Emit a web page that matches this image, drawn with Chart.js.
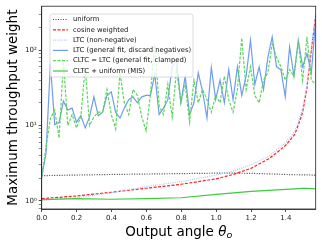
<!DOCTYPE html>
<html>
<head>
<meta charset="utf-8">
<script src="https://cdn.jsdelivr.net/npm/chart.js@4.4.0/dist/chart.umd.min.js"></script>
<style>
  html, body { margin: 0; padding: 0; background: #fff; }
</style>
</head>
<body>
<canvas id="weightChart" width="322" height="246"></canvas>
<script>
// noisy fits are sampled on 64 even steps of theta_o in [0, pi/2]
const fitCount = 64;
const fitAngles = Array.from({ length: fitCount }, (_, i) => i * (Math.PI / 2) / (fitCount - 1));

// smooth curves, read at these angles
const smoothAngles = [0, 0.2, 0.4, 0.6, 0.8, 1.0, 1.1, 1.2, 1.3, 1.35, 1.4, 1.45, 1.47, 1.496, 1.521, 1.546, 1.571];

const uniform        = [2.16, 2.2, 2.24, 2.27, 2.3, 2.33, 2.33, 2.32, 2.28, 2.26, 2.24, 2.22, 2.22, 2.21, 2.21, 2.2, 2.2];
const cosineWeighted = [1.07, 1.16, 1.3, 1.47, 1.66, 1.96, 2.25, 2.7, 3.6, 4.4, 5.5, 7.6, 10, 15, 32, 100, 290];
const ltcNonNeg      = [1.02, 1.1, 1.28, 1.55, 1.8, 2.2, 2.5, 3.0, 3.9, 4.8, 6.0, 8.3, 11, 17, 35, 110, 300];
const cltcMis        = [1.04, 1.07, 1.05, 1.07, 1.1, 1.22, 1.28, 1.34, 1.38, 1.4, 1.42, 1.44, 1.45, 1.46, 1.46, 1.45, 1.45];

const ltcGeneral = [2.1, 4.3, 66, 10.2, 11, 21, 16, 17, 11, 13.5, 9.3, 13, 24, 13.5, 15, 25,
  28, 15, 12.5, 17, 22, 24, 20, 24, 25, 25, 48, 14, 17, 22, 60, 75,
  20, 45, 14, 20, 50, 28, 12.6, 59, 22, 40, 20, 55, 22, 60, 25, 45,
  135, 35, 60, 30, 80, 150, 60, 55, 24, 110, 45, 135, 60, 90, 50, 250];
const cltcClamped = [2.0, 5.2, 12.4, 16, 6.8, 70, 10, 14, 9.3, 13, 60, 10, 13, 15, 15, 30,
  14, 9, 50, 20, 14, 30, 25, 13, 8.5, 26, 125, 18, 14, 35, 13, 55,
  20, 35, 11, 40, 20, 30, 22, 15, 25, 20, 45, 22, 15, 30, 145, 30,
  60, 25, 20, 40, 50, 120, 80, 60, 40, 55, 45, 130, 40, 150, 40, 35];

const xTicks = [0, 0.2, 0.4, 0.6, 0.8, 1.0, 1.2, 1.4];
const yMajor = [1, 10, 100];
const yMinor = [0.8, 0.9, 2, 3, 4, 5, 6, 7, 8, 9, 20, 30, 40, 50, 60, 70, 80, 90, 200, 300];
const yLabels = { 1: '10⁰', 10: '10¹', 100: '10²' };

const pts = (xs, ys) => xs.map((x, i) => ({ x: x, y: ys[i] }));

const base = { pointRadius: 0, borderWidth: 1.2, tension: 0, fill: false };

const datasets = [
  { ...base, label: 'uniform', data: pts(smoothAngles, uniform), borderColor: '#444', borderDash: [1, 1.5], order: 5 },
  { ...base, label: 'cosine weighted', data: pts(smoothAngles, cosineWeighted), borderColor: '#ff2020', borderDash: [3, 1.5], order: 4 },
  { ...base, label: 'LTC (non-negative)', data: pts(smoothAngles, ltcNonNeg), borderColor: '#a8c6f4', borderDash: [1, 1.2], order: 3 },
  { ...base, label: 'LTC (general fit, discard negatives)', data: pts(fitAngles, ltcGeneral), borderColor: '#6f9ded', order: 2 },
  { ...base, label: 'CLTC = LTC (general fit, clamped)', data: pts(fitAngles, cltcClamped), borderColor: '#5ad65a', borderDash: [3, 1.5], order: 1 },
  { ...base, label: 'CLTC + uniform (MIS)', data: pts(smoothAngles, cltcMis), borderColor: '#3ccc3c', order: 0 },
];

const FONT = '"DejaVu Sans", sans-serif';

const decorations = {
  id: 'decorations',
  afterDraw(chart) {
    const { ctx, chartArea: a } = chart;
    ctx.save();

    // legend box (upper left, inside axes)
    const lx = 50, ly = 14, lw = 143, lh = 63;
    ctx.fillStyle = 'rgba(255,255,255,0.8)';
    ctx.strokeStyle = '#d0d0d0';
    ctx.lineWidth = 0.8;
    ctx.beginPath();
    ctx.roundRect(lx, ly, lw, lh, 2);
    ctx.fill();
    ctx.stroke();
    ctx.font = '6.8px ' + FONT;
    ctx.textBaseline = 'middle';
    ctx.textAlign = 'left';
    chart.data.datasets.forEach((ds, i) => {
      const y = 19.5 + i * 10.3;
      ctx.strokeStyle = ds.borderColor;
      ctx.lineWidth = 1.2;
      ctx.setLineDash(ds.borderDash || []);
      ctx.beginPath();
      ctx.moveTo(53, y);
      ctx.lineTo(68, y);
      ctx.stroke();
      ctx.setLineDash([]);
      ctx.fillStyle = '#111';
      ctx.fillText(ds.label, 73, y);
    });

    // axes frame
    ctx.strokeStyle = '#222';
    ctx.lineWidth = 0.8;
    ctx.strokeRect(a.left, a.top, a.right - a.left, a.bottom - a.top);

    // x title: Output angle θ_o
    ctx.fillStyle = '#000';
    ctx.textBaseline = 'alphabetic';
    const main = 'Output angle ';
    ctx.font = '13.5px ' + FONT;
    const w1 = ctx.measureText(main).width;
    ctx.font = 'italic 13.5px ' + FONT;
    const w2 = ctx.measureText('θ').width;
    ctx.font = 'italic 9.5px ' + FONT;
    const w3 = ctx.measureText('o').width;
    let x = (a.left + a.right) / 2 - (w1 + w2 + w3) / 2;
    const by = 236;
    ctx.font = '13.5px ' + FONT;
    ctx.fillText(main, x, by);
    x += w1;
    ctx.font = 'italic 13.5px ' + FONT;
    ctx.fillText('θ', x, by);
    x += w2;
    ctx.font = 'italic 9.5px ' + FONT;
    ctx.fillText('o', x, by + 2);

    // y title
    ctx.translate(17, (a.top + a.bottom) / 2);
    ctx.rotate(-Math.PI / 2);
    ctx.textAlign = 'center';
    ctx.font = '13.5px ' + FONT;
    ctx.fillText('Maximum throughput weight', 0, 0);

    ctx.restore();
  }
};

new Chart(document.getElementById('weightChart'), {
  type: 'line',
  data: { datasets: datasets },
  options: {
    responsive: false,
    animation: false,
    devicePixelRatio: 1,
    layout: { padding: { left: 0, top: 6, right: 6.3, bottom: 0 } },
    plugins: { legend: { display: false }, tooltip: { enabled: false } },
    scales: {
      x: {
        type: 'linear',
        min: 0,
        max: Math.PI / 2,
        afterBuildTicks: (scale) => { scale.ticks = xTicks.map(v => ({ value: v })); },
        afterFit: (scale) => { scale.height = 37; },
        ticks: {
          autoSkip: false,
          maxRotation: 0,
          padding: 2,
          color: '#222',
          font: { family: 'DejaVu Sans', size: 7 },
          callback: (v) => Number(v).toFixed(1),
        },
        grid: { drawOnChartArea: false, tickLength: 3, tickColor: '#222', tickWidth: 0.8 },
        border: { display: true, color: '#222', width: 0.8 },
      },
      y: {
        type: 'logarithmic',
        min: 0.78,
        max: 382,
        afterBuildTicks: (scale) => {
          scale.ticks = yMajor.concat(yMinor).sort((p, q) => p - q)
            .map(v => ({ value: v, major: yMajor.includes(v) }));
        },
        afterFit: (scale) => { scale.width = 41.7; },
        ticks: {
          autoSkip: false,
          padding: 2,
          color: '#222',
          font: { family: 'DejaVu Sans', size: 7 },
          callback: (v) => yLabels[v] || '',
        },
        grid: {
          drawOnChartArea: false,
          tickLength: 3,
          tickColor: '#222',
          tickWidth: (c) => (c.tick && yMajor.includes(c.tick.value) ? 0.8 : 0.5),
        },
        border: { display: true, color: '#222', width: 0.8 },
      },
    },
  },
  plugins: [decorations],
});
</script>
</body>
</html>
